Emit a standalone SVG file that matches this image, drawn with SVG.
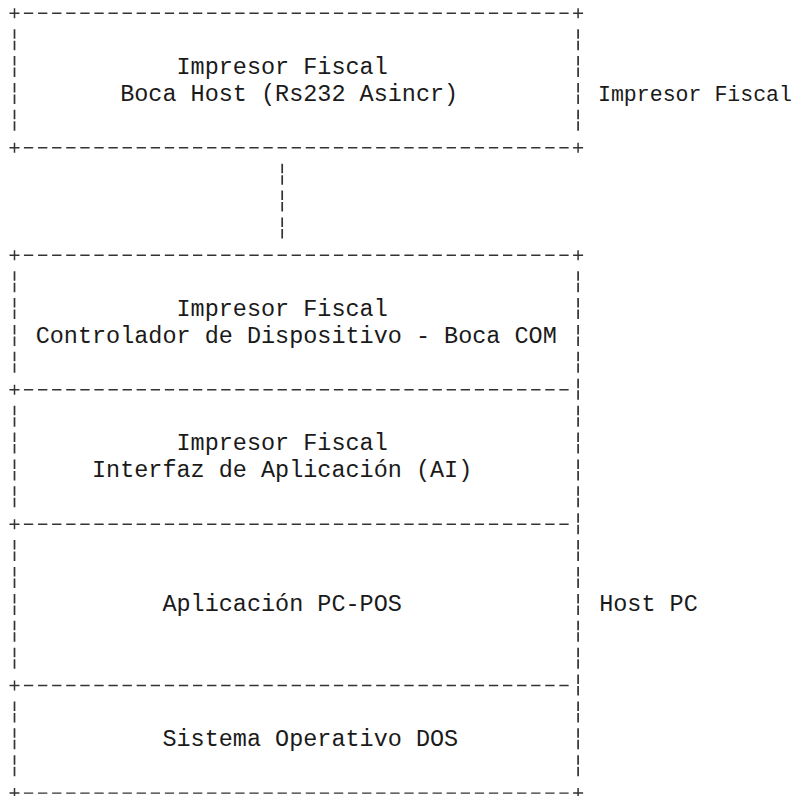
<svg xmlns="http://www.w3.org/2000/svg" width="808" height="796" viewBox="0 0 808 796">
  <style>
    .bg { fill: #ffffff; }
    .t { font-family: "Liberation Mono", "Courier New", monospace; font-size: 23.48px; fill: #1a1a1a; white-space: pre; }
    .s { font-size: 22.5px; }
    .h { stroke: #333333; stroke-width: 1.4; fill: none; stroke-dasharray: 9.3 4.79; }
    .v { stroke: #333333; stroke-width: 1.7; fill: none; stroke-dasharray: 9.5 2 9.5 5.89; }
    .p { stroke: #333333; stroke-width: 1.5; fill: none; }
  </style>
  <rect class="bg" x="0" y="0" width="808" height="796"/>

  <!-- Box 1: Impresor Fiscal / Boca Host -->
  <g id="node-boca-host">
    <line class="h" x1="23.94" y1="13.3" x2="568.65" y2="13.3"/>
    <line class="h" x1="23.94" y1="147.75" x2="568.65" y2="147.75"/>
    <path class="p" d="M9.5 13.3h10M14.5 8.3v10M573.1 13.3h10M578.1 8.3v10M9.5 147.75h10M14.5 142.75v10M573.1 147.75h10M578.1 142.75v10"/>
    <line class="v" x1="14.5" y1="29.19" x2="14.5" y2="130.86"/>
    <line class="v" x1="578.1" y1="29.19" x2="578.1" y2="130.86"/>
    <text class="t" x="176.53" y="73.6">Impresor Fiscal</text>
    <text class="t" x="120.17" y="100.5">Boca Host (Rs232 Asincr)</text>
  </g>
  <g id="label-impresor-fiscal">
    <text class="t s" x="598" y="100.5" textLength="194" lengthAdjust="spacingAndGlyphs">Impresor Fiscal</text>
  </g>

  <!-- Connector -->
  <g id="connectors">
    <line class="v" x1="282.2" y1="163.64" x2="282.2" y2="238.42"/>
  </g>

  <!-- Host PC stack -->
  <g id="node-host-pc">
    <line class="h" x1="23.94" y1="255.31" x2="568.65" y2="255.31"/>
    <line class="h" x1="23.94" y1="793.11" x2="568.65" y2="793.11"/>
    <path class="p" d="M9.5 255.31h10M14.5 250.31v10M573.1 255.31h10M578.1 250.31v10M9.5 793.11h10M14.5 788.11v10M573.1 793.11h10M578.1 788.11v10"/>
    <line class="v" x1="578.1" y1="271.2" x2="578.1" y2="776.22"/>

    <g id="layer-controlador">
      <line class="v" x1="14.5" y1="271.2" x2="14.5" y2="372.87"/>
      <text class="t" x="176.53" y="315.6">Impresor Fiscal</text>
      <text class="t" x="35.63" y="342.5">Controlador de Dispositivo - Boca COM</text>
    </g>
    <g id="layer-interfaz">
      <line class="h" x1="23.94" y1="389.76" x2="568.65" y2="389.76"/>
      <path class="p" d="M9.5 389.76h10M14.5 384.76v10"/>
      <line class="v" x1="14.5" y1="405.65" x2="14.5" y2="507.32"/>
      <text class="t" x="176.53" y="450.0">Impresor Fiscal</text>
      <text class="t" x="92.0" y="476.9">Interfaz de Aplicación (AI)</text>
    </g>
    <g id="layer-aplicacion">
      <line class="h" x1="23.94" y1="524.21" x2="568.65" y2="524.21"/>
      <path class="p" d="M9.5 524.21h10M14.5 519.21v10"/>
      <line class="v" x1="14.5" y1="540.1" x2="14.5" y2="668.66"/>
      <text class="t" x="162.44" y="611.4">Aplicación PC-POS</text>
    </g>
    <g id="layer-dos">
      <line class="h" x1="23.94" y1="685.55" x2="568.65" y2="685.55"/>
      <path class="p" d="M9.5 685.55h10M14.5 680.55v10"/>
      <line class="v" x1="14.5" y1="701.44" x2="14.5" y2="776.22"/>
      <text class="t" x="162.44" y="745.8">Sistema Operativo DOS</text>
    </g>
  </g>
  <g id="label-host-pc">
    <text class="t" x="599.2" y="611.4">Host PC</text>
  </g>
</svg>
